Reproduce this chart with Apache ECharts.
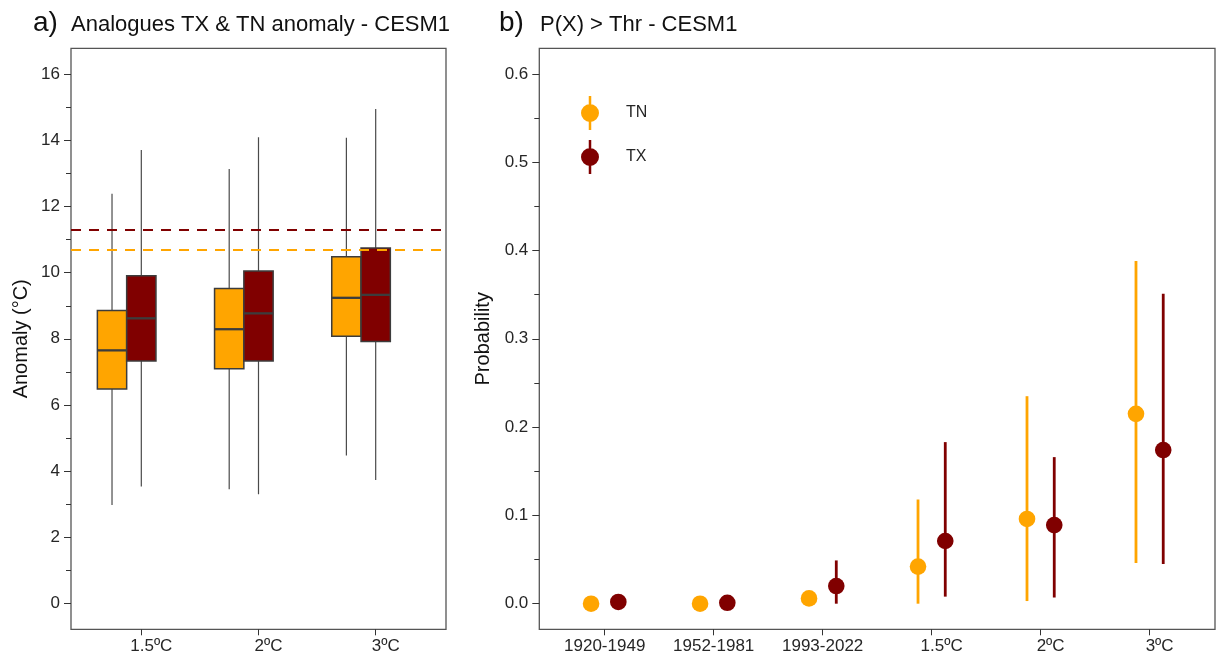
<!DOCTYPE html>
<html>
<head>
<meta charset="utf-8">
<script src="https://cdn.jsdelivr.net/npm/echarts@6/dist/echarts.min.js"></script>
<style>
  html, body { margin: 0; padding: 0; background: #fff; }
  #chart { width: 1217px; height: 658px; }
</style>
</head>
<body>
<div id="chart"></div>
<script>
// panel a) boxplots: [low, q1, median, q3, high]
const warmingLevels = ['1.5ºC', '2ºC', '3ºC'];
const tnBox = [[2.97, 6.48, 7.65, 8.86, 12.39], [3.45, 7.09, 8.29, 9.52, 13.14], [4.47, 8.08, 9.24, 10.48, 14.08]];
const txBox = [[3.53, 7.33, 8.62, 9.91, 13.71], [3.30, 7.33, 8.77, 10.05, 14.10], [3.73, 7.92, 9.33, 10.75, 14.95]];
const tnThreshold = 10.68;
const txThreshold = 11.30;
const anomalyTicks = [0, 2, 4, 6, 8, 10, 12, 14, 16];
const anomalyMinor = [1, 3, 5, 7, 9, 11, 13, 15];

// panel b) probabilities with ranges
const periods = ['1920-1949', '1952-1981', '1993-2022', '1.5ºC', '2ºC', '3ºC'];
const tnProb = [0.000, 0.000, 0.006, 0.042, 0.096, 0.215];
const tnLow = [0.000, 0.000, 0.000, 0.000, 0.003, 0.046];
const tnHigh = [0.002, 0.002, 0.012, 0.118, 0.235, 0.388];
const txProb = [0.002, 0.001, 0.020, 0.071, 0.089, 0.174];
const txLow = [0.000, 0.000, 0.000, 0.008, 0.007, 0.045];
const txHigh = [0.004, 0.003, 0.049, 0.183, 0.166, 0.351];
const probTicks = [0, 0.1, 0.2, 0.3, 0.4, 0.5, 0.6];
const probMinor = [0.05, 0.15, 0.25, 0.35, 0.45, 0.55];

const TN_COLOR = '#FFA500';
const TX_COLOR = '#800000';
const FONT = 'Liberation Sans, Arial, sans-serif';
const TEXT = '#262626';

const chart = echarts.init(document.getElementById('chart'));

function boxRender(offset) {
  return function (params, api) {
    const x = api.value(0) + offset;
    const half = api.size([0.25, 0])[0] / 2;
    const lo = api.coord([x, api.value(1)]);
    const q1 = api.coord([x, api.value(2)]);
    const med = api.coord([x, api.value(3)]);
    const q3 = api.coord([x, api.value(4)]);
    const hi = api.coord([x, api.value(5)]);
    return {
      type: 'group',
      children: [
        { type: 'line', shape: { x1: lo[0], y1: lo[1], x2: hi[0], y2: hi[1] },
          style: { stroke: '#4a4a4a', lineWidth: 1.2 } },
        { type: 'rect', shape: { x: q3[0] - half, y: q3[1], width: half * 2, height: q1[1] - q3[1] },
          style: { fill: api.visual('color'), stroke: '#3c3c3c', lineWidth: 1.5 } },
        { type: 'line', shape: { x1: med[0] - half, y1: med[1], x2: med[0] + half, y2: med[1] },
          style: { stroke: '#3c3c3c', lineWidth: 2.3 } }
      ]
    };
  };
}

function pointRender(offset) {
  return function (params, api) {
    const x = api.value(0) + offset;
    const p = api.coord([x, api.value(1)]);
    const lo = api.coord([x, api.value(2)]);
    const hi = api.coord([x, api.value(3)]);
    const color = api.visual('color');
    return {
      type: 'group',
      children: [
        { type: 'line', shape: { x1: lo[0], y1: lo[1], x2: hi[0], y2: hi[1] },
          style: { stroke: color, lineWidth: 2.8 } },
        { type: 'circle', shape: { cx: p[0], cy: p[1], r: 8.3 }, style: { fill: color } }
      ]
    };
  };
}

const boxData = (arr) => arr.map((b, i) => [i + 1].concat(b));
const pointData = (p, lo, hi) => p.map((v, i) => [i + 1, v, lo[i], hi[i]]);

function catLabel(labels) {
  return {
    fontSize: 17, fontFamily: FONT, color: TEXT, margin: 9,
    customValues: labels.map((l, i) => i + 1),
    formatter: (v) => {
      const l = labels[Math.round(v) - 1];
      return l.indexOf('º') >= 0 ? '{d|' + l + '}' : l;
    },
    rich: { d: { padding: [0, 0, 0, 20], fontSize: 17, fontFamily: FONT, color: TEXT } }
  };
}

const tickStyle = { color: '#333', width: 1 };
const axisName = { fontSize: 20, fontFamily: FONT, color: '#111' };

const legendIcon = 'path://M7.75 0 L10.25 0 L10.25 34 L7.75 34 Z M0 17 A9 9 0 1 1 18 17 A9 9 0 1 1 0 17 Z';

chart.setOption({
  animation: false,
  backgroundColor: '#fff',
  textStyle: { fontFamily: FONT },
  graphic: [
    { type: 'text', left: 33, top: 9, style: { text: 'a)', fontSize: 28, fontFamily: FONT, fill: '#111' } },
    { type: 'text', left: 71, top: 14, style: { text: 'Analogues TX & TN anomaly - CESM1', fontSize: 22, fontFamily: FONT, fill: '#111' } },
    { type: 'text', left: 499, top: 9, style: { text: 'b)', fontSize: 28, fontFamily: FONT, fill: '#111' } },
    { type: 'text', left: 540, top: 14, style: { text: 'P(X) > Thr - CESM1', fontSize: 22, fontFamily: FONT, fill: '#111' } }
  ],
  legend: {
    orient: 'vertical',
    left: 581, top: 96,
    padding: 0,
    itemWidth: 18, itemHeight: 34, itemGap: 10,
    icon: legendIcon,
    data: ['TN', 'TX'],
    textStyle: { fontSize: 16, fontFamily: FONT, color: TEXT, padding: [0, 0, 0, 22] },
    selectedMode: false
  },
  grid: [
    { left: 71, top: 48.3, width: 375, height: 581, show: true, borderColor: '#555', borderWidth: 1.3, backgroundColor: '#fff' },
    { left: 539.3, top: 48.3, width: 675.7, height: 581, show: true, borderColor: '#555', borderWidth: 1.3, backgroundColor: '#fff' }
  ],
  xAxis: [
    { type: 'value', gridIndex: 0, min: 0.4, max: 3.6, position: 'bottom',
      axisLine: { show: false, onZero: false }, splitLine: { show: false },
      axisTick: { show: true, length: 6, lineStyle: tickStyle, customValues: [1, 2, 3] },
      axisLabel: catLabel(warmingLevels) },
    { type: 'value', gridIndex: 1, min: 0.4, max: 6.6, position: 'bottom',
      axisLine: { show: false, onZero: false }, splitLine: { show: false },
      axisTick: { show: true, length: 6, lineStyle: tickStyle, customValues: periods.map((p, i) => i + 1) },
      axisLabel: catLabel(periods) }
  ],
  yAxis: [
    { type: 'value', gridIndex: 0, min: -0.79, max: 16.79,
      name: 'Anomaly (°C)', nameLocation: 'middle', nameGap: 40, nameTextStyle: axisName,
      axisLine: { show: false, onZero: false }, splitLine: { show: false },
      axisTick: { show: true, length: 7, lineStyle: tickStyle, customValues: anomalyTicks },
      axisLabel: { fontSize: 17, fontFamily: FONT, color: TEXT, margin: 11, customValues: anomalyTicks } },
    { type: 'value', gridIndex: 0, min: -0.79, max: 16.79, position: 'left',
      axisLine: { show: false, onZero: false }, splitLine: { show: false },
      axisTick: { show: true, length: 5, lineStyle: tickStyle, customValues: anomalyMinor },
      axisLabel: { show: false } },
    { type: 'value', gridIndex: 1, min: -0.029, max: 0.629,
      name: 'Probability', nameLocation: 'middle', nameGap: 46, nameTextStyle: axisName,
      axisLine: { show: false, onZero: false }, splitLine: { show: false },
      axisTick: { show: true, length: 7, lineStyle: tickStyle, customValues: probTicks },
      axisLabel: { fontSize: 17, fontFamily: FONT, color: TEXT, margin: 11, customValues: probTicks,
        formatter: (v) => v.toFixed(1) } },
    { type: 'value', gridIndex: 1, min: -0.029, max: 0.629, position: 'left',
      axisLine: { show: false, onZero: false }, splitLine: { show: false },
      axisTick: { show: true, length: 5, lineStyle: tickStyle, customValues: probMinor },
      axisLabel: { show: false } }
  ],
  series: [
    { name: 'TN box', type: 'custom', xAxisIndex: 0, yAxisIndex: 0,
      itemStyle: { color: TN_COLOR }, renderItem: boxRender(-0.25),
      encode: { x: 0, y: [1, 2, 3, 4, 5] }, data: boxData(tnBox),
      markLine: { silent: true, symbol: 'none', label: { show: false },
        lineStyle: { color: TN_COLOR, width: 2.2, type: [10, 8] }, data: [{ yAxis: tnThreshold }] } },
    { name: 'TX box', type: 'custom', xAxisIndex: 0, yAxisIndex: 0,
      itemStyle: { color: TX_COLOR }, renderItem: boxRender(0),
      encode: { x: 0, y: [1, 2, 3, 4, 5] }, data: boxData(txBox),
      markLine: { silent: true, symbol: 'none', label: { show: false },
        lineStyle: { color: TX_COLOR, width: 2.2, type: [10, 8] }, data: [{ yAxis: txThreshold }] } },
    { name: 'TN', type: 'custom', xAxisIndex: 1, yAxisIndex: 2,
      itemStyle: { color: TN_COLOR }, renderItem: pointRender(-0.125),
      encode: { x: 0, y: [1, 2, 3] }, data: pointData(tnProb, tnLow, tnHigh) },
    { name: 'TX', type: 'custom', xAxisIndex: 1, yAxisIndex: 2,
      itemStyle: { color: TX_COLOR }, renderItem: pointRender(0.125),
      encode: { x: 0, y: [1, 2, 3] }, data: pointData(txProb, txLow, txHigh) }
  ]
});
</script>
</body>
</html>
